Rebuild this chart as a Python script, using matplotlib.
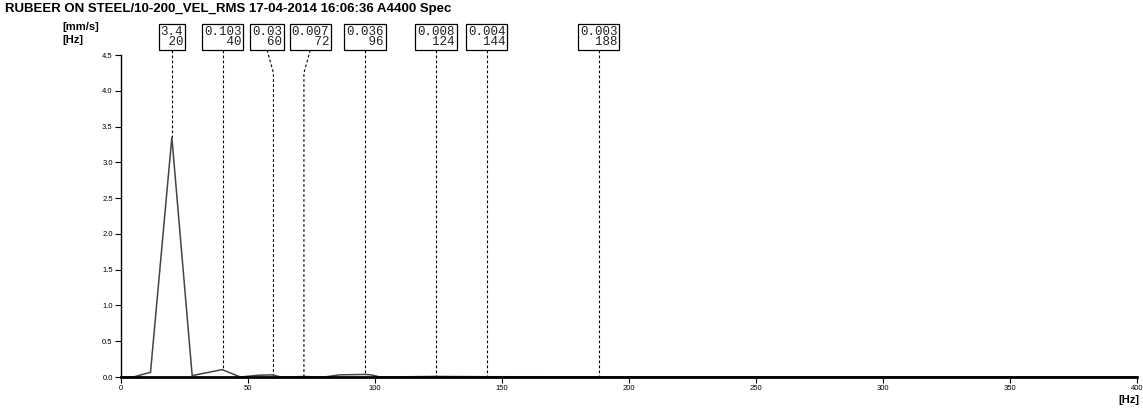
import matplotlib.pyplot as plt
import matplotlib.transforms as mtransforms

# spectrum
freq = [0, 4.8, 11.6, 20, 28, 39.8, 47, 54, 59.5, 63, 72, 80, 86, 96, 98.5, 102, 124, 144, 188, 400]
vel = [0, 0, 0.066, 3.35, 0.02, 0.103, 0.0, 0.025, 0.03, 0.0, 0.007, 0.0, 0.03, 0.036, 0.03, 0.0, 0.008, 0.004, 0.003, 0.0]

# peak markers
peak_hz = [20, 40, 60, 72, 96, 124, 144, 188]
peak_val = ['3.4', '0.103', '0.03', '0.007', '0.036', '0.008', '0.004', '0.003']
peak_amp = [3.35, 0.103, 0.03, 0.007, 0.036, 0.008, 0.004, 0.003]
# where the label boxes sit (Hz), two are pushed aside
box_hz = [20, 40, 57.5, 74.5, 96, 124, 144, 188]

plt.rcParams['font.family'] = ['Liberation Sans', 'DejaVu Sans']

fig = plt.figure(figsize=(11.43, 4.09), dpi=100)
ax = fig.add_axes([0.1059, 0.0782, 0.8889, 0.7873])

ax.plot(freq, vel, color='#444444', lw=1.1)

ax.set_xlim(0, 400)
ax.set_ylim(0, 4.5)
ax.set_xticks(range(0, 401, 50))
ax.set_yticks([i * 0.5 for i in range(10)])
ax.set_yticklabels(['%.1f' % (i * 0.5) for i in range(10)])
ax.spines['top'].set_visible(False)
ax.spines['right'].set_visible(False)
ax.spines['bottom'].set_linewidth(2)
ax.spines['left'].set_linewidth(1)
ax.tick_params(axis='both', labelsize=5.5, length=4, width=0.8, pad=2)

# dashed leaders + boxes
trans = mtransforms.blended_transform_factory(ax.transData, ax.transAxes)
for hz, bx, val, amp in zip(peak_hz, box_hz, peak_val, peak_amp):
    top = 4.57
    kink = 4.25
    ax.plot([bx, hz, hz], [top, kink, amp], ls=(0, (2.5, 2)), color='black', lw=0.8, clip_on=False)
    w = max(len(val), len(str(hz)))
    txt = val.rjust(w) + '\n' + str(hz).rjust(w)
    ax.text(bx, 1.055, txt, transform=trans, ha='center', va='center',
            family='Liberation Mono', fontsize=9, linespacing=0.82, color='#222222',
            bbox=dict(boxstyle='square,pad=0.15', fc='white', ec='black', lw=0.9))

fig.text(0.004, 0.979, 'RUBEER ON STEEL/10-200_VEL_RMS 17-04-2014 16:06:36 A4400 Spec',
         fontsize=9.5, fontweight='bold', va='center', ha='left')
fig.text(0.055, 0.935, '[mm/s]', fontsize=8, fontweight='bold', va='center')
fig.text(0.055, 0.901, '[Hz]', fontsize=8, fontweight='bold', va='center')
fig.text(0.997, 0.022, '[Hz]', fontsize=8, fontweight='bold', va='center', ha='right')

fig.savefig('out.png', dpi=100)
